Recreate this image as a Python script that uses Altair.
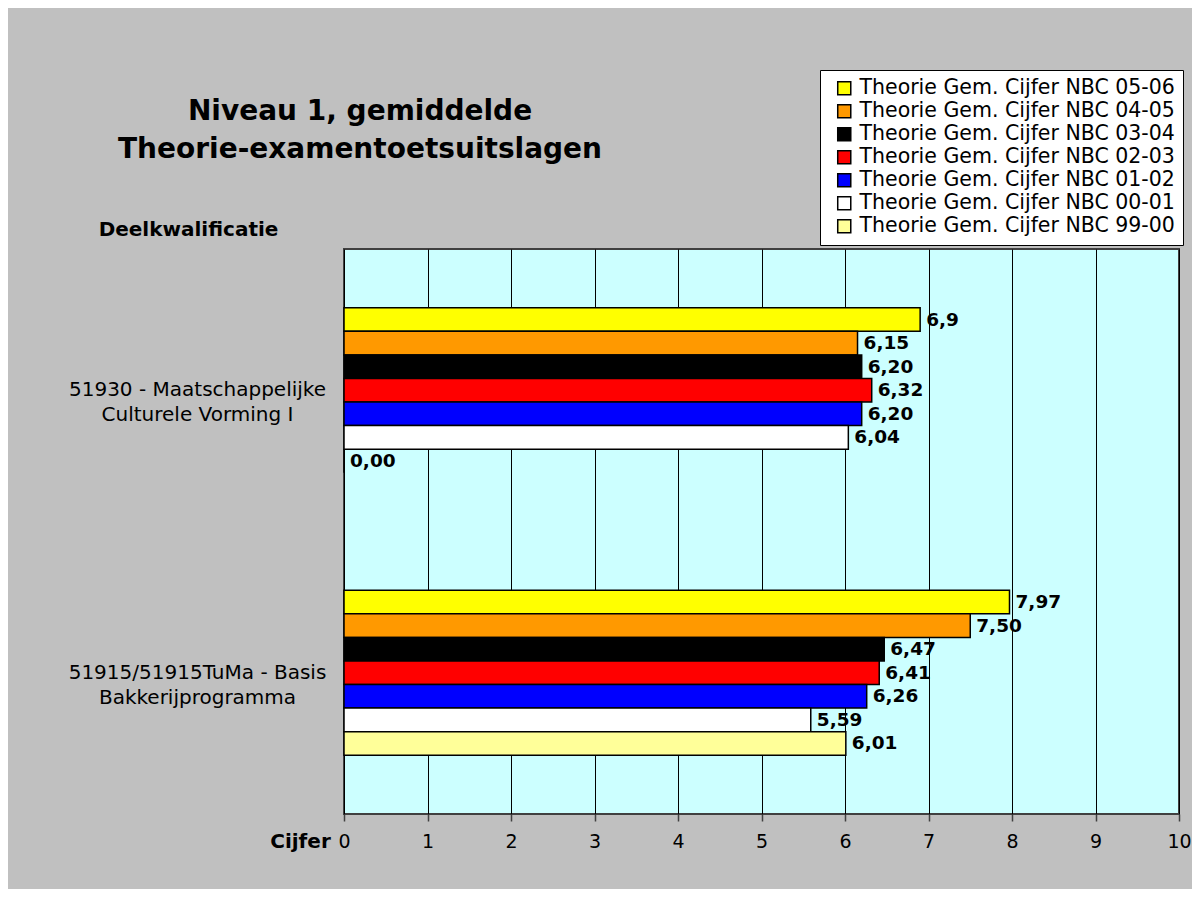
import altair as alt
import pandas as pd

categories = ["51930 - Maatschappelijke|Culturele Vorming I",
              "51915/51915TuMa - Basis|Bakkerijprogramma"]
series = ["Theorie Gem. Cijfer NBC 05-06", "Theorie Gem. Cijfer NBC 04-05",
          "Theorie Gem. Cijfer NBC 03-04", "Theorie Gem. Cijfer NBC 02-03",
          "Theorie Gem. Cijfer NBC 01-02", "Theorie Gem. Cijfer NBC 00-01",
          "Theorie Gem. Cijfer NBC 99-00"]
colors = ["#FFFF00", "#FF9900", "#000000", "#FF0000", "#0000FF", "#FFFFFF", "#FFFF99"]
values_cat1 = [6.9, 6.15, 6.20, 6.32, 6.20, 6.04, 0.00]
values_cat2 = [7.97, 7.50, 6.47, 6.41, 6.26, 5.59, 6.01]
labels_cat1 = ["6,9", "6,15", "6,20", "6,32", "6,20", "6,04", "0,00"]
labels_cat2 = ["7,97", "7,50", "6,47", "6,41", "6,26", "5,59", "6,01"]
x_ticks = [0, 1, 2, 3, 4, 5, 6, 7, 8, 9, 10]

rows = []
for cat, vals, labs in [(categories[0], values_cat1, labels_cat1),
                        (categories[1], values_cat2, labels_cat2)]:
    for s, v, l in zip(series, vals, labs):
        rows.append({"cat": cat, "series": s, "value": v, "label": l})
df = pd.DataFrame(rows)

FONT = "DejaVu Sans"

y_enc = alt.Y("cat:N", sort=categories,
              scale=alt.Scale(paddingInner=0.416, paddingOuter=0.208),
              axis=alt.Axis(title="Deelkwalificatie", titleAngle=0, titleX=-156, titleY=-20,
                            titleAlign="center", titleBaseline="middle", titleFontSize=20,
                            titleFont=FONT, titleFontWeight="bold", titleColor="black",
                            ticks=False, domain=False, labelAlign="center", labelBaseline="middle",
                            labelPadding=147, labelFontSize=20, labelFont=FONT, labelColor="black",
                            labelLimit=400, labelLineHeight=25,
                            labelExpr="split(datum.label, '|')"))
yoff = alt.YOffset("series:N", sort=series, scale=alt.Scale(paddingInner=0, paddingOuter=0))
x_enc = alt.X("value:Q", scale=alt.Scale(domain=[0, 10], nice=False),
              axis=alt.Axis(values=x_ticks, title="Cijfer", titleX=-44, titleY=27,
                            titleAlign="center", titleBaseline="middle", titleFontSize=20,
                            titleFont=FONT, titleFontWeight="bold", titleColor="black",
                            grid=True, gridColor="black", gridWidth=1, gridOpacity=1,
                            domain=False, tickSize=7, tickColor="#404040", tickWidth=1.5,
                            labelFontSize=19, labelFont=FONT, labelColor="black",
                            labelPadding=11, labelFlush=False, format="d"))

bars = alt.Chart(df).mark_bar(stroke="black", strokeWidth=1.5).encode(
    x=x_enc, y=y_enc, yOffset=yoff,
    color=alt.Color("series:N", sort=series,
                    scale=alt.Scale(domain=series, range=colors),
                    legend=alt.Legend(title=None, orient="none", legendX=476, legendY=-179,
                                      fillColor="white", strokeColor="black", padding=8,
                                      symbolType="square", symbolSize=170,
                                      symbolStrokeColor="black", symbolStrokeWidth=1.5,
                                      symbolOffset=6, labelFontSize=20.5, labelFont=FONT,
                                      labelColor="black", labelOffset=5, rowPadding=2,
                                      labelLimit=400)))

texts = alt.Chart(df).mark_text(align="left", baseline="middle", dx=6, fontSize=18.5,
                                fontWeight="bold", font=FONT, color="black").encode(
    x="value:Q", y=alt.Y("cat:N", sort=categories), yOffset=yoff, text="label:N")

title_df = pd.DataFrame({"t": ["Niveau 1, gemiddelde", "Theorie-examentoetsuitslagen"],
                         "pos": [-137, -99]})
title = alt.Chart(title_df).mark_text(align="center", baseline="middle", fontSize=28,
                                      fontWeight="bold", font=FONT, color="black").encode(
    x=alt.value(16), y=alt.Y("pos:Q", scale=None), text="t:N")

chart = alt.layer(bars, texts, title).properties(
    width=835, height=565,
    autosize=alt.AutoSizeParams(type="none"),
    padding={"left": 336, "top": 241, "right": 13, "bottom": 75},
    background="#C0C0C0",
).configure_view(fill="#CCFFFF", stroke="#404040", strokeWidth=2)

chart.save("out.html", embed_options={"renderer": "svg", "actions": False})
